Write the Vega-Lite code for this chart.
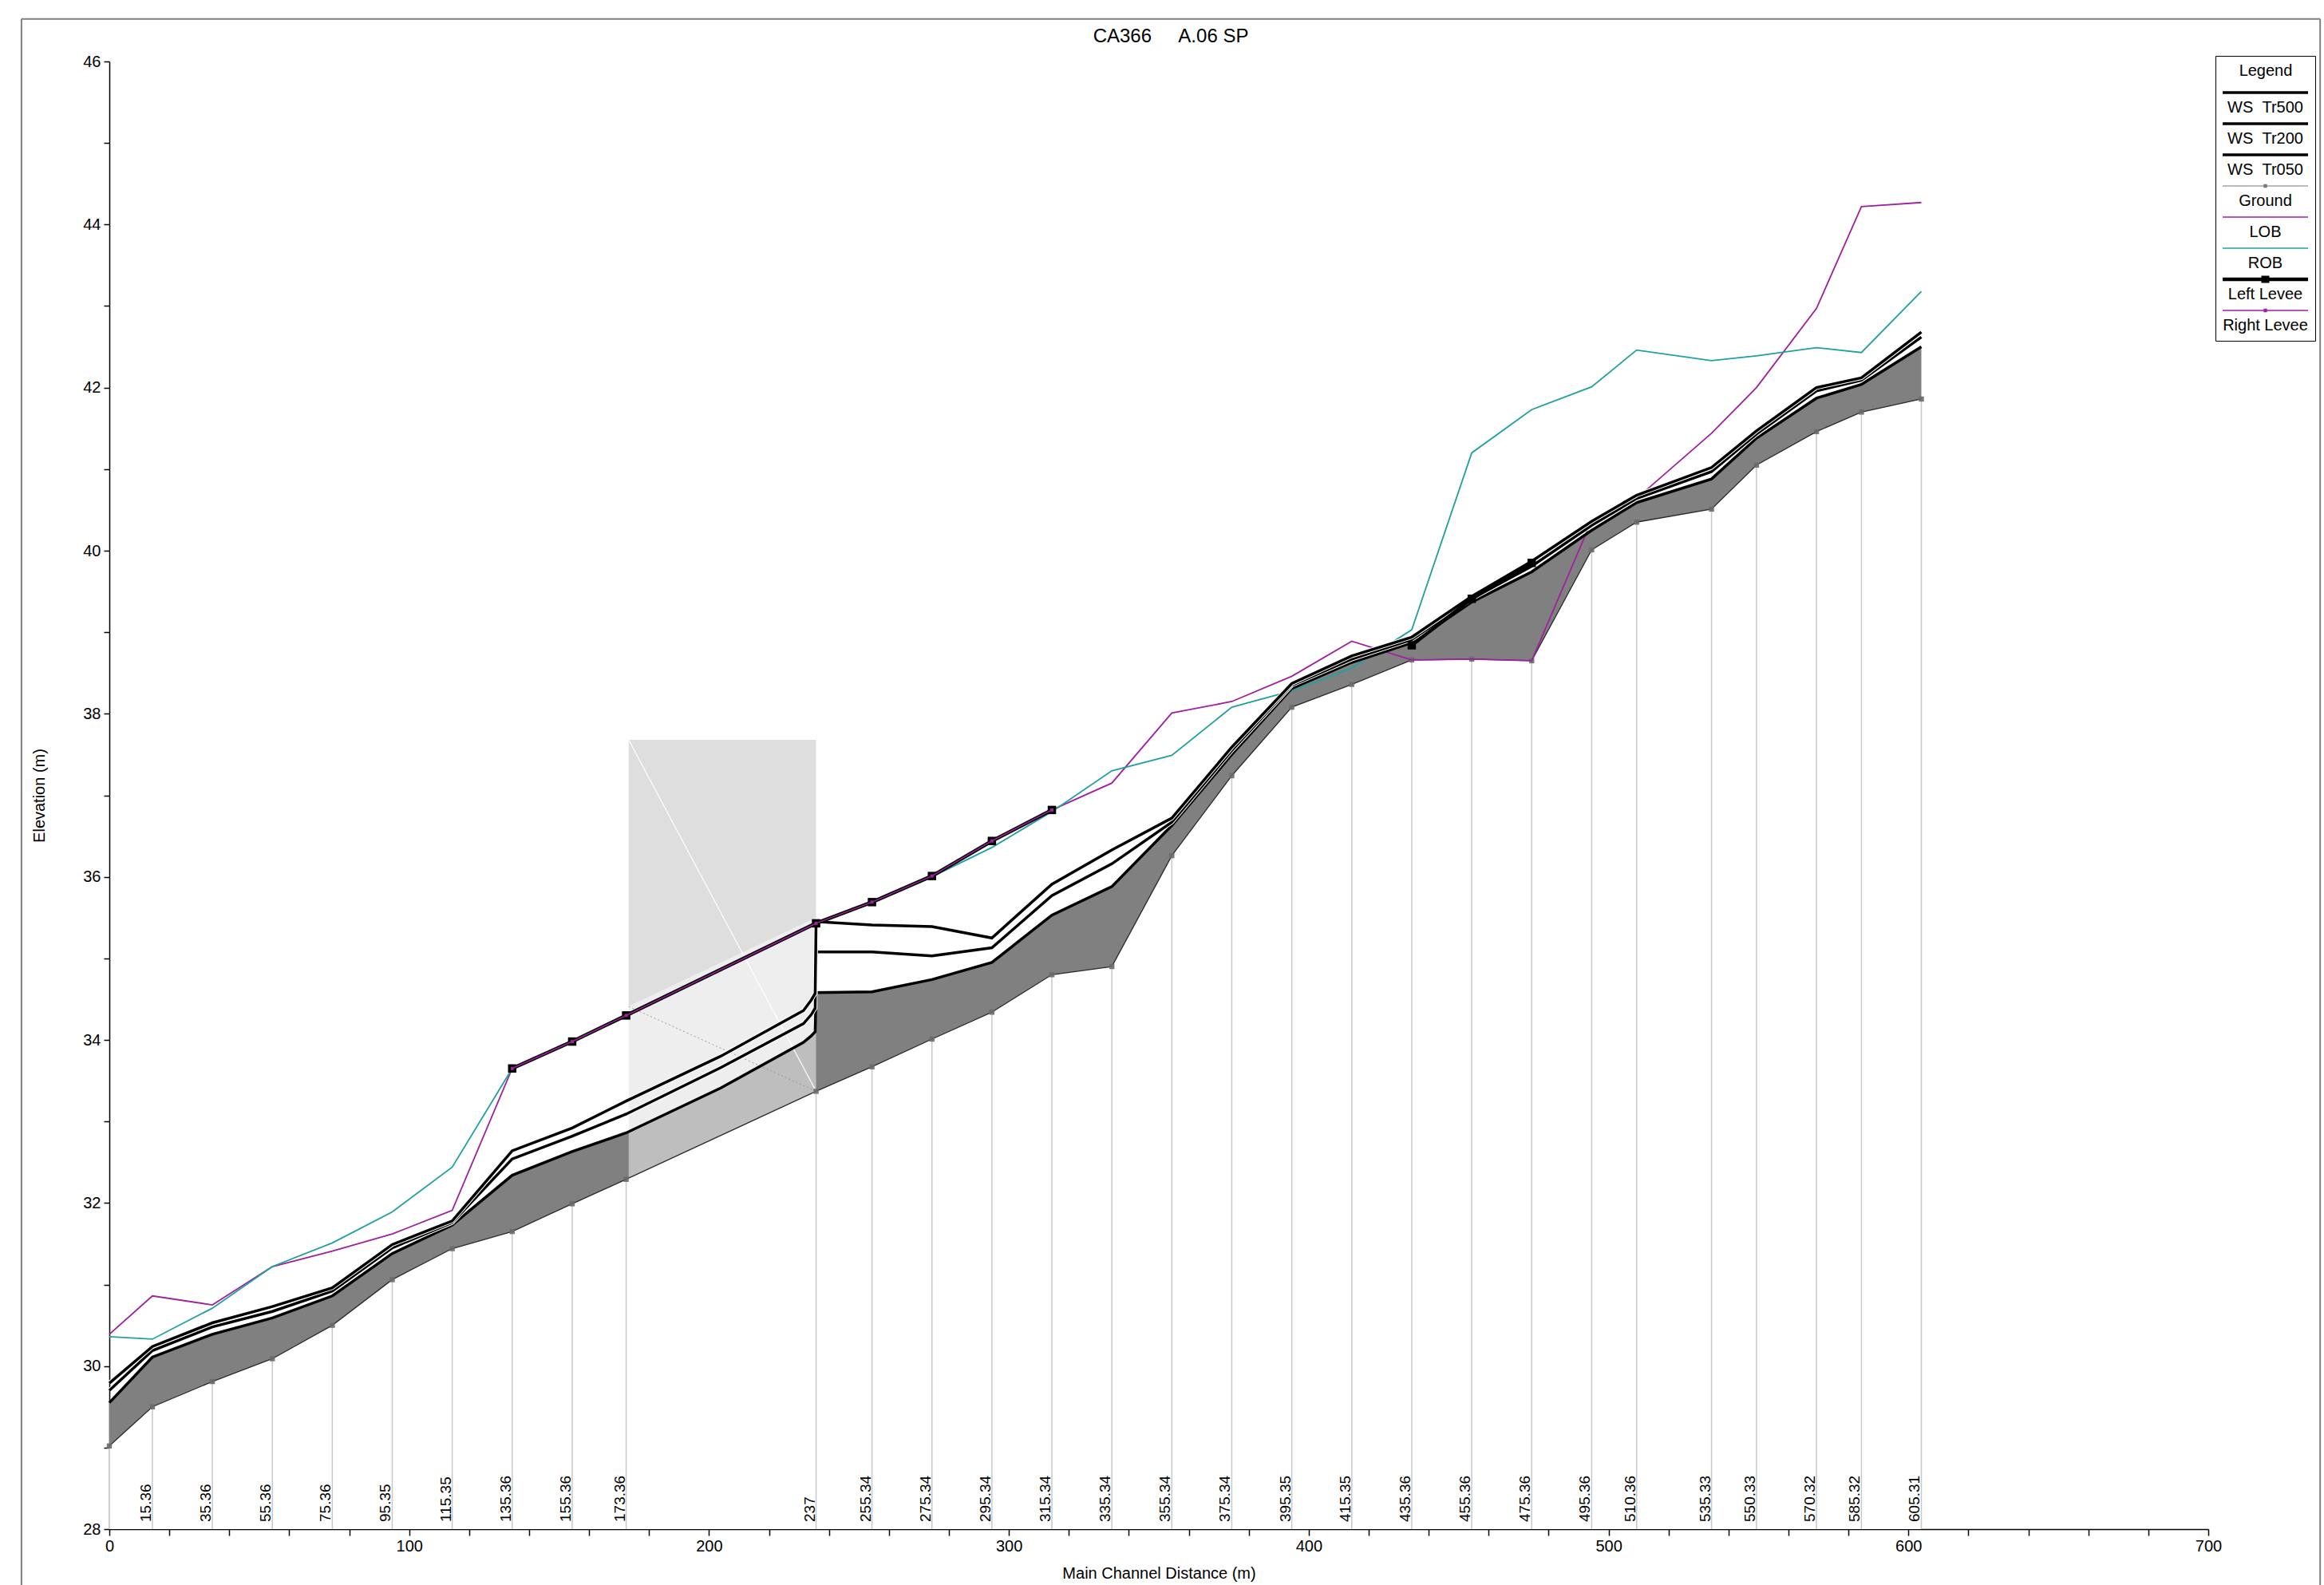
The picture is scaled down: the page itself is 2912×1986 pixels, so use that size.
{
  "$schema": "https://vega.github.io/schema/vega-lite/v6.json",
  "width": 2630,
  "height": 1839,
  "autosize": {"type": "none"},
  "padding": {"left": 137, "top": 77, "right": 145, "bottom": 70},
  "background": "white",
  "title": {"text": "CA366\u00a0\u00a0\u00a0\u00a0\u00a0A.06 SP", "font": "Liberation Sans", "fontSize": 24, "fontWeight": "normal", "color": "#000", "anchor": "middle", "frame": "bounds", "baseline": "bottom", "offset": -59},
  "datasets": {
    "xs": [
      {"x": 0, "rs": null, "g": 29.02, "w5": 29.79, "w2": 29.70, "w0": 29.55, "lob": 30.39, "rob": 30.36},
      {"x": 14.36, "rs": "15.36", "g": 29.50, "w5": 30.24, "w2": 30.19, "w0": 30.11, "lob": 30.86, "rob": 30.33},
      {"x": 34.36, "rs": "35.36", "g": 29.81, "w5": 30.53, "w2": 30.48, "w0": 30.39, "lob": 30.75, "rob": 30.71},
      {"x": 54.36, "rs": "55.36", "g": 30.09, "w5": 30.73, "w2": 30.67, "w0": 30.59, "lob": 31.22, "rob": 31.22},
      {"x": 74.36, "rs": "75.36", "g": 30.50, "w5": 30.96, "w2": 30.92, "w0": 30.86, "lob": 31.41, "rob": 31.51},
      {"x": 94.35, "rs": "95.35", "g": 31.06, "w5": 31.49, "w2": 31.45, "w0": 31.38, "lob": 31.62, "rob": 31.89},
      {"x": 114.35, "rs": "115.35", "g": 31.44, "w5": 31.78, "w2": 31.76, "w0": 31.73, "lob": 31.91, "rob": 32.44},
      {"x": 134.36, "rs": "135.36", "g": 31.65, "w5": 32.64, "w2": 32.54, "w0": 32.34, "lob": 33.65, "rob": 33.65},
      {"x": 154.36, "rs": "155.36", "g": 31.99, "w5": 32.92, "w2": 32.82, "w0": 32.63, "lob": 33.98, "rob": 33.98},
      {"x": 172.36, "rs": "173.36", "g": 32.29, "w5": 33.25, "w2": 33.09, "w0": 32.86, "lob": 34.30, "rob": 34.30},
      {"x": 203.9, "rs": null, "g": null, "w5": 33.80, "w2": 33.66, "w0": 33.41, "lob": null, "rob": null},
      {"x": 231.5, "rs": null, "g": null, "w5": 34.36, "w2": 34.20, "w0": 33.97, "lob": null, "rob": null},
      {"x": 234.1, "rs": null, "g": null, "w5": 34.49, "w2": 34.31, "w0": 34.05, "lob": null, "rob": null},
      {"x": 235.4, "rs": null, "g": null, "w5": 34.57, "w2": 34.39, "w0": 34.10, "lob": null, "rob": null},
      {"x": 235.7, "rs": "237", "g": 33.37, "w5": 35.45, "w2": 35.08, "w0": 34.58, "lob": 35.43, "rob": 35.43},
      {"x": 254.34, "rs": "255.34", "g": 33.67, "w5": 35.41, "w2": 35.08, "w0": 34.59, "lob": 35.69, "rob": 35.69},
      {"x": 274.34, "rs": "275.34", "g": 34.01, "w5": 35.39, "w2": 35.03, "w0": 34.74, "lob": 36.01, "rob": 36.00},
      {"x": 294.34, "rs": "295.34", "g": 34.34, "w5": 35.25, "w2": 35.13, "w0": 34.95, "lob": 36.44, "rob": 36.36},
      {"x": 314.34, "rs": "315.34", "g": 34.80, "w5": 35.91, "w2": 35.77, "w0": 35.53, "lob": 36.82, "rob": 36.80},
      {"x": 334.34, "rs": "335.34", "g": 34.90, "w5": 36.33, "w2": 36.16, "w0": 35.88, "lob": 37.15, "rob": 37.30},
      {"x": 354.34, "rs": "355.34", "g": 36.26, "w5": 36.72, "w2": 36.67, "w0": 36.63, "lob": 38.01, "rob": 37.49},
      {"x": 374.34, "rs": "375.34", "g": 37.24, "w5": 37.59, "w2": 37.55, "w0": 37.50, "lob": 38.15, "rob": 38.08},
      {"x": 394.35, "rs": "395.35", "g": 38.08, "w5": 38.37, "w2": 38.35, "w0": 38.31, "lob": 38.46, "rob": 38.28},
      {"x": 414.35, "rs": "415.35", "g": 38.36, "w5": 38.71, "w2": 38.67, "w0": 38.63, "lob": 38.89, "rob": 38.56},
      {"x": 434.36, "rs": "435.36", "g": 38.66, "w5": 38.94, "w2": 38.91, "w0": 38.87, "lob": 38.66, "rob": 39.03},
      {"x": 454.36, "rs": "455.36", "g": 38.67, "w5": 39.44, "w2": 39.41, "w0": 39.37, "lob": 38.67, "rob": 41.20},
      {"x": 474.36, "rs": "475.36", "g": 38.65, "w5": 39.87, "w2": 39.81, "w0": 39.74, "lob": 38.65, "rob": 41.73},
      {"x": 494.36, "rs": "495.36", "g": 40.01, "w5": 40.36, "w2": 40.31, "w0": 40.25, "lob": 40.37, "rob": 42.01},
      {"x": 509.36, "rs": "510.36", "g": 40.35, "w5": 40.68, "w2": 40.64, "w0": 40.59, "lob": 40.64, "rob": 42.46},
      {"x": 534.33, "rs": "535.33", "g": 40.51, "w5": 41.02, "w2": 40.97, "w0": 40.88, "lob": 41.44, "rob": 42.33},
      {"x": 549.33, "rs": "550.33", "g": 41.05, "w5": 41.47, "w2": 41.43, "w0": 41.38, "lob": 42.00, "rob": 42.39},
      {"x": 569.32, "rs": "570.32", "g": 41.46, "w5": 42.00, "w2": 41.96, "w0": 41.87, "lob": 42.97, "rob": 42.49},
      {"x": 584.32, "rs": "585.32", "g": 41.70, "w5": 42.12, "w2": 42.09, "w0": 42.04, "lob": 44.22, "rob": 42.43},
      {"x": 604.31, "rs": "605.31", "g": 41.86, "w5": 42.68, "w2": 42.62, "w0": 42.50, "lob": 44.27, "rob": 43.18}
    ],
    "lev": [
      {"x": 134.36, "seg": "a", "ll": 33.65},
      {"x": 154.36, "seg": "a", "ll": 33.98},
      {"x": 172.36, "seg": "a", "ll": 34.30},
      {"x": 235.7, "seg": "a", "ll": 35.43},
      {"x": 254.34, "seg": "a", "ll": 35.69},
      {"x": 274.34, "seg": "a", "ll": 36.01},
      {"x": 294.34, "seg": "a", "ll": 36.44},
      {"x": 314.34, "seg": "a", "ll": 36.82},
      {"x": 434.36, "seg": "b", "ll": 38.84},
      {"x": 454.36, "seg": "b", "ll": 39.41},
      {"x": 474.36, "seg": "b", "ll": 39.85}
    ],
    "br": [
      {"x": 173.2, "top": 37.68, "low": 34.41, "g": 32.30},
      {"x": 235.7, "top": 37.68, "low": 35.50, "g": 33.37}
    ],
    "dg": [
      {"k": "w", "x": 173.2, "y": 37.68},
      {"k": "w", "x": 235.7, "y": 33.37},
      {"k": "d", "x": 173.2, "y": 34.41},
      {"k": "d", "x": 235.7, "y": 33.37}
    ],
    "leg": [
      {"s": "WS\u00a0\u00a0Tr500"},
      {"s": "WS\u00a0\u00a0Tr200"},
      {"s": "WS\u00a0\u00a0Tr050"},
      {"s": "Ground"},
      {"s": "LOB"},
      {"s": "ROB"},
      {"s": "Left Levee"},
      {"s": "Right Levee"}
    ]
  },
  "layer": [
    {
      "data": {"name": "xs"},
      "mark": {"type": "area", "color": "#808080"},
      "encoding": {
        "x": {
          "field": "x", "type": "quantitative",
          "scale": {"domain": [0, 700], "nice": false, "zero": false},
          "axis": {
            "title": "Main Channel Distance (m)",
            "values": [0,20,40,60,80,100,120,140,160,180,200,220,240,260,280,300,320,340,360,380,400,420,440,460,480,500,520,540,560,580,600,620,640,660,680,700],
            "labelExpr": "datum.value % 100 === 0 ? datum.label : ''",
            "format": "d",
            "grid": false, "tickSize": 8, "labelPadding": 3, "titlePadding": 14,
            "labelFlush": false, "labelOverlap": false
          }
        },
        "y": {
          "field": "w0", "type": "quantitative",
          "scale": {"domain": [28, 46], "nice": false, "zero": false},
          "axis": {
            "title": "Elevation (m)",
            "values": [28,29,30,31,32,33,34,35,36,37,38,39,40,41,42,43,44,45,46],
            "labelExpr": "datum.value % 2 === 0 ? datum.label : ''",
            "format": "d",
            "grid": false, "tickSize": 7, "labelPadding": 4, "titlePadding": 44,
            "labelFlush": false, "labelOverlap": false
          }
        },
        "y2": {"datum": 28}
      }
    },
    {
      "data": {"name": "xs"},
      "transform": [{"filter": "datum.g != null"}],
      "mark": {"type": "area", "color": "#ffffff"},
      "encoding": {"x": {"field": "x", "type": "quantitative"}, "y": {"field": "g", "type": "quantitative"}, "y2": {"datum": 28}}
    },
    {
      "data": {"name": "br"},
      "mark": {"type": "area", "color": "#dedede"},
      "encoding": {"x": {"field": "x", "type": "quantitative"}, "y": {"field": "top", "type": "quantitative"}, "y2": {"field": "low"}}
    },
    {
      "data": {"name": "xs"},
      "transform": [{"filter": "datum.g != null"}],
      "mark": {"type": "rule", "color": "#c8c8c8", "strokeWidth": 1.5},
      "encoding": {"x": {"field": "x", "type": "quantitative"}, "y": {"field": "g", "type": "quantitative"}, "y2": {"datum": 28}}
    },
    {
      "data": {"name": "br"},
      "mark": {"type": "area", "color": "#e4e4e4", "opacity": 0.62},
      "encoding": {"x": {"field": "x", "type": "quantitative"}, "y": {"field": "low", "type": "quantitative"}, "y2": {"field": "g"}}
    },
    {
      "data": {"name": "dg"},
      "transform": [{"filter": "datum.k == 'w'"}],
      "mark": {"type": "line", "color": "#ffffff", "strokeWidth": 1.2},
      "encoding": {"x": {"field": "x", "type": "quantitative"}, "y": {"field": "y", "type": "quantitative"}}
    },
    {
      "data": {"name": "dg"},
      "transform": [{"filter": "datum.k == 'd'"}],
      "mark": {"type": "line", "color": "#9a9a9a", "strokeWidth": 1, "strokeDash": [2, 3]},
      "encoding": {"x": {"field": "x", "type": "quantitative"}, "y": {"field": "y", "type": "quantitative"}}
    },
    {
      "data": {"name": "xs"},
      "transform": [{"filter": "datum.g != null"}],
      "mark": {"type": "line", "color": "#2a2a2a", "strokeWidth": 1.3},
      "encoding": {"x": {"field": "x", "type": "quantitative"}, "y": {"field": "g", "type": "quantitative"}}
    },
    {
      "data": {"name": "xs"},
      "transform": [{"filter": "datum.g != null"}],
      "mark": {"type": "point", "shape": "square", "filled": true, "color": "#6a6a6a", "size": 42, "opacity": 0.9},
      "encoding": {"x": {"field": "x", "type": "quantitative"}, "y": {"field": "g", "type": "quantitative"}}
    },
    {
      "data": {"name": "xs"},
      "transform": [{"filter": "datum.lob != null"}],
      "mark": {"type": "line", "color": "#a020a0", "strokeWidth": 1.8},
      "encoding": {"x": {"field": "x", "type": "quantitative"}, "y": {"field": "lob", "type": "quantitative"}}
    },
    {
      "data": {"name": "xs"},
      "transform": [{"filter": "datum.rob != null"}],
      "mark": {"type": "line", "color": "#20a0a0", "strokeWidth": 1.8},
      "encoding": {"x": {"field": "x", "type": "quantitative"}, "y": {"field": "rob", "type": "quantitative"}}
    },
    {
      "data": {"name": "xs"},
      "mark": {"type": "line", "color": "#000000", "strokeWidth": 3.5},
      "encoding": {"x": {"field": "x", "type": "quantitative"}, "y": {"field": "w0", "type": "quantitative"}}
    },
    {
      "data": {"name": "xs"},
      "mark": {"type": "line", "color": "#ffffff", "strokeWidth": 5.5},
      "encoding": {"x": {"field": "x", "type": "quantitative"}, "y": {"field": "w2", "type": "quantitative"}}
    },
    {
      "data": {"name": "xs"},
      "mark": {"type": "line", "color": "#000000", "strokeWidth": 3.5},
      "encoding": {"x": {"field": "x", "type": "quantitative"}, "y": {"field": "w2", "type": "quantitative"}}
    },
    {
      "data": {"name": "xs"},
      "mark": {"type": "line", "color": "#ffffff", "strokeWidth": 5.5},
      "encoding": {"x": {"field": "x", "type": "quantitative"}, "y": {"field": "w5", "type": "quantitative"}}
    },
    {
      "data": {"name": "xs"},
      "mark": {"type": "line", "color": "#000000", "strokeWidth": 3.5},
      "encoding": {"x": {"field": "x", "type": "quantitative"}, "y": {"field": "w5", "type": "quantitative"}}
    },
    {
      "data": {"name": "lev"},
      "mark": {"type": "line", "color": "#000000", "strokeWidth": 4.5},
      "encoding": {"x": {"field": "x", "type": "quantitative"}, "y": {"field": "ll", "type": "quantitative"}, "detail": {"field": "seg"}}
    },
    {
      "data": {"name": "lev"},
      "mark": {"type": "point", "shape": "square", "filled": true, "color": "#000000", "size": 110, "opacity": 1},
      "encoding": {"x": {"field": "x", "type": "quantitative"}, "y": {"field": "ll", "type": "quantitative"}}
    },
    {
      "data": {"name": "lev"},
      "transform": [{"filter": "datum.seg == 'a'"}],
      "mark": {"type": "line", "color": "#a020a0", "strokeWidth": 1.5},
      "encoding": {"x": {"field": "x", "type": "quantitative"}, "y": {"field": "ll", "type": "quantitative"}}
    },
    {
      "data": {"name": "lev"},
      "transform": [{"filter": "datum.seg == 'a'"}],
      "mark": {"type": "point", "shape": "square", "filled": true, "color": "#a020a0", "size": 16, "opacity": 1},
      "encoding": {"x": {"field": "x", "type": "quantitative"}, "y": {"field": "ll", "type": "quantitative"}}
    },
    {
      "data": {"name": "xs"},
      "transform": [{"filter": "datum.rs != null"}],
      "mark": {"type": "text", "angle": 270, "align": "left", "baseline": "alphabetic", "dx": 9, "dy": -2, "font": "Liberation Sans", "fontSize": 19, "color": "#000000"},
      "encoding": {"x": {"field": "x", "type": "quantitative"}, "y": {"datum": 28, "type": "quantitative"}, "text": {"field": "rs", "type": "nominal"}}
    },
    {
      "data": {"name": "leg"},
      "mark": {"type": "point", "filled": true, "size": 400, "opacity": 0},
      "encoding": {
        "color": {
          "field": "s", "type": "nominal",
          "scale": {
            "domain": ["WS\u00a0\u00a0Tr500", "WS\u00a0\u00a0Tr200", "WS\u00a0\u00a0Tr050", "Ground", "LOB", "ROB", "Left Levee", "Right Levee"],
            "range": ["#000000", "#000000", "#000000", "#777777", "#a020a0", "#20a0a0", "#000000", "#a020a0"]
          },
          "legend": {
            "title": "Legend", "orient": "none", "legendX": 2639, "legendY": -7,
            "direction": "vertical", "columns": 1, "padding": 9,
            "strokeColor": "#000000", "fillColor": "#ffffff",
            "titleFont": "Liberation Sans", "titleFontSize": 20, "titleFontWeight": "normal", "titleColor": "#000000",
            "titleAnchor": "middle", "titleAlign": "center", "titlePadding": 26,
            "labelFont": "Liberation Sans", "labelFontSize": 20, "labelColor": "#000000",
            "labelAlign": "center", "labelOffset": -10, "labelLimit": 400,
            "symbolSize": 400, "symbolOpacity": 1, "symbolStrokeWidth": 0, "symbolOffset": 43.5,
            "rowPadding": 3
          }
        },
        "shape": {
          "field": "s", "type": "nominal",
          "scale": {
            "domain": ["WS\u00a0\u00a0Tr500", "WS\u00a0\u00a0Tr200", "WS\u00a0\u00a0Tr050", "Ground", "LOB", "ROB", "Left Levee", "Right Levee"],
            "range": [
              "M0,-2.6M-5.35,-2.08H5.35V-1.72H-5.35Z",
              "M0,-2.6M-5.35,-2.08H5.35V-1.72H-5.35Z",
              "M0,-2.6M-5.35,-2.08H5.35V-1.72H-5.35Z",
              "M0,-2.6M-5.35,-1.95H5.35V-1.85H-5.35ZM-0.22,-2.12H0.22V-1.68H-0.22Z",
              "M0,-2.6M-5.35,-1.98H5.35V-1.82H-5.35Z",
              "M0,-2.6M-5.35,-1.98H5.35V-1.82H-5.35Z",
              "M0,-2.6M-5.35,-2.12H5.35V-1.68H-5.35ZM-0.5,-2.35H0.5V-1.45H-0.5Z",
              "M0,-2.6M-5.35,-1.98H5.35V-1.82H-5.35ZM-0.22,-2.12H0.22V-1.68H-0.22Z"
            ]
          },
          "legend": {
            "title": "Legend", "orient": "none", "legendX": 2639, "legendY": -7,
            "direction": "vertical", "columns": 1, "padding": 9,
            "strokeColor": "#000000", "fillColor": "#ffffff",
            "titleFont": "Liberation Sans", "titleFontSize": 20, "titleFontWeight": "normal", "titleColor": "#000000",
            "titleAnchor": "middle", "titleAlign": "center", "titlePadding": 26,
            "labelFont": "Liberation Sans", "labelFontSize": 20, "labelColor": "#000000",
            "labelAlign": "center", "labelOffset": -10, "labelLimit": 400,
            "symbolSize": 400, "symbolOpacity": 1, "symbolStrokeWidth": 0, "symbolOffset": 43.5,
            "rowPadding": 3
          }
        }
      }
    },
    {
      "data": {"values": [{}]},
      "mark": {"type": "rule", "color": "#808080", "strokeWidth": 2, "clip": false},
      "encoding": {
        "x": {"datum": -29.3, "type": "quantitative"},
        "y": {"datum": 46.52, "type": "quantitative"},
        "y2": {"datum": 26.5}
      }
    },
    {
      "data": {"values": [{}]},
      "mark": {"type": "rule", "color": "#808080", "strokeWidth": 2, "clip": false},
      "encoding": {
        "x": {"datum": 737.3, "type": "quantitative"},
        "y": {"datum": 46.52, "type": "quantitative"},
        "y2": {"datum": 26.5}
      }
    },
    {
      "data": {"values": [{}]},
      "mark": {"type": "rule", "color": "#808080", "strokeWidth": 2, "clip": false},
      "encoding": {
        "x": {"datum": -29.3, "type": "quantitative"},
        "x2": {"datum": 737.3},
        "y": {"datum": 46.52, "type": "quantitative"}
      }
    }
  ],
  "config": {
    "view": {"stroke": null},
    "font": "Liberation Sans",
    "axis": {
      "labelFont": "Liberation Sans", "titleFont": "Liberation Sans",
      "labelFontSize": 20, "titleFontSize": 20, "titleFontWeight": "normal",
      "labelColor": "#000000", "titleColor": "#000000",
      "domainColor": "#000000", "tickColor": "#000000",
      "domainWidth": 1.5, "tickWidth": 1.5
    }
  }
}
